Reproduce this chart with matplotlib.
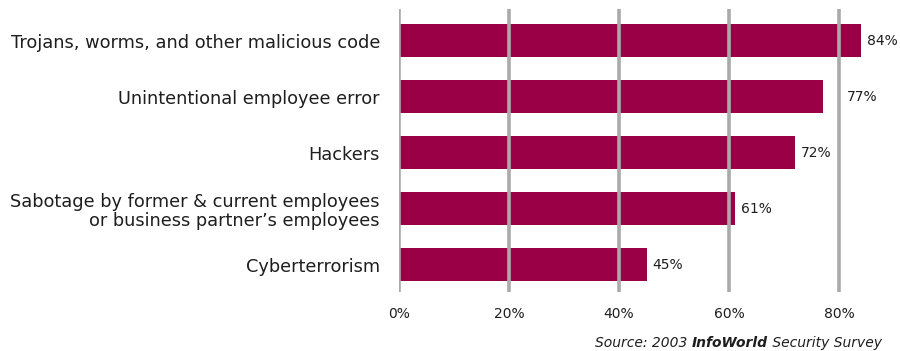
import matplotlib.pyplot as plt

# data
categories = [
    'Trojans, worms, and other malicious code',
    'Unintentional employee error',
    'Hackers',
    'Sabotage by former & current employees\nor business partner\u2019s employees',
    'Cyberterrorism',
]
values = [84, 77, 72, 61, 45]
tick_values = [0, 20, 40, 60, 80]
tick_labels = ['0%', '20%', '40%', '60%', '80%']

bar_color = '#990046'
grid_color = '#aaaaaa'
text_color = '#1e1e1e'

plt.rcParams['font.family'] = ['DejaVu Sans']

fig = plt.figure(figsize=(9, 3.51), dpi=100)
ax = fig.add_axes([399 / 900, 59 / 351, 495 / 900, 283 / 351])

# bars
ypos = list(range(len(values)))
ax.barh(ypos, values, height=0.59, color=bar_color, zorder=1)
ax.set_ylim(len(values) - 1 + 0.49, -0.5625)
ax.set_xlim(0, 90)

# vertical gridlines drawn over the bars
for t in tick_values:
    ax.axvline(t, color=grid_color, linewidth=2.6, zorder=3)

# value labels, pushed past the 80% line when they would touch it
for y, v in zip(ypos, values):
    x = v + 1.1
    if v < 80 < v + 5:
        x = 81.4
    ax.text(x, y, f'{v}%', va='center', ha='left', fontsize=10,
            color=text_color)

# axes appearance
ax.set_yticks(ypos)
ax.set_yticklabels(categories, fontsize=12.8, color=text_color,
                   linespacing=1.1)
ax.set_xticks(tick_values)
ax.set_xticklabels(tick_labels, fontsize=10, color=text_color)
ax.tick_params(axis='y', length=0, pad=13.7)
ax.tick_params(axis='x', length=0, pad=11)
for s in ax.spines.values():
    s.set_visible(False)

# source line
t3 = fig.text(882 / 900, 1 - 343 / 351, ' Security Survey', ha='right',
              va='center', fontsize=10, style='italic', color=text_color)
t2 = ax.annotate('InfoWorld', xy=(0, 0), xycoords=t3, ha='right',
                 va='bottom', fontsize=10, style='italic',
                 weight='bold', color=text_color)
t1 = ax.annotate('Source: 2003 ', xy=(0, 0), xycoords=t2, ha='right',
                 va='bottom', fontsize=10, style='italic',
                 color=text_color)

fig.savefig('out.png', dpi=100)
